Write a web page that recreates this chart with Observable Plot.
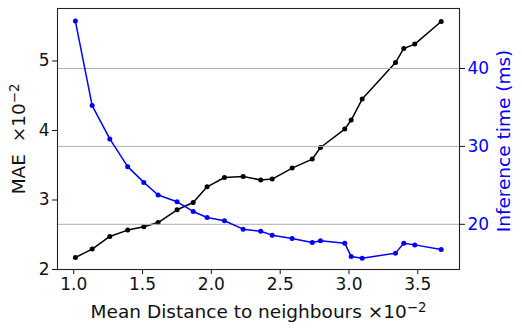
<!DOCTYPE html>
<html><head><meta charset="utf-8">
<script src="https://cdn.jsdelivr.net/npm/d3@7"></script>
<script src="https://cdn.jsdelivr.net/npm/@observablehq/plot@0.6"></script>
<style>
html,body{margin:0;padding:0;background:#fff;}
#chart{position:relative;width:522px;height:335px;}
#chart svg{position:absolute;left:0;top:0;}
</style></head><body><div id="chart"></div>
<script>
const distance = [1.012,1.134,1.262,1.392,1.509,1.613,1.751,1.868,1.969,2.095,2.231,2.359,2.442,2.587,2.733,2.793,2.969,3.016,3.096,3.338,3.398,3.478,3.670];
const mae = [2.173,2.294,2.475,2.567,2.614,2.676,2.859,2.964,3.190,3.324,3.338,3.288,3.301,3.459,3.588,3.755,4.020,4.150,4.452,4.978,5.180,5.243,5.568];
const inferenceTime = [46.08,35.24,30.96,27.40,25.38,23.76,22.89,21.65,20.87,20.45,19.38,19.10,18.61,18.17,17.66,17.88,17.58,15.86,15.65,16.30,17.58,17.36,16.76];
const xTicks = [1.0,1.5,2.0,2.5,3.0,3.5];
const maeTicks = [2,3,4,5];
const timeTicks = [20,30,40];
const xLabel = "Mean Distance to neighbours ×10⁻²";
const maeLabel = "MAE\u00a0\u00a0×10⁻²";
const timeLabel = "Inference time (ms)";

const rows = distance.map((d,i)=>({d, mae: mae[i], t: inferenceTime[i]}));
const font = "DejaVu Sans, sans-serif";
const tickFs = 17, labelFs = 18.5;
const xDomain = [0.882,3.803];
const common = {
  width:522, height:335, marginLeft:57, marginRight:63, marginTop:8, marginBottom:66,
  style:{fontFamily:font, fontSize:tickFs+"px", background:"transparent", overflow:"visible", color:"#111"}
};

const left = Plot.plot({
  ...common,
  x:{domain:xDomain},
  y:{domain:[2,5.755]},
  marks:[
    Plot.axisX({ticks:xTicks, tickFormat:d3.format(".1f"), tickSize:5, tickPadding:3, label:null, fontSize:tickFs, stroke:"#111", fill:"#111"}),
    Plot.axisY({ticks:maeTicks, tickFormat:d=>String(d), tickSize:5, tickPadding:3, label:null, fontSize:tickFs, stroke:"#111", fill:"#111"}),
    Plot.line(rows, {x:"d", y:"mae", stroke:"black", strokeWidth:1.5}),
    Plot.dot(rows, {x:"d", y:"mae", fill:"black", r:2.5}),
    Plot.text([xLabel], {frameAnchor:"bottom", dy:43, textAnchor:"middle", lineAnchor:"middle", fontSize:labelFs, fill:"#111"}),
    Plot.text([maeLabel], {frameAnchor:"left", dx:-38, dy:0, rotate:-90, textAnchor:"middle", lineAnchor:"middle", fontSize:labelFs, fill:"#111"})
  ]
});

const right = Plot.plot({
  ...common,
  x:{domain:xDomain, axis:null},
  y:{domain:[14.2,47.7]},
  marks:[
    Plot.gridY(timeTicks, {stroke:"#b0b0b0", strokeOpacity:1, strokeWidth:1}),
    Plot.line(rows, {x:"d", y:"t", stroke:"blue", strokeWidth:1.5}),
    Plot.dot(rows, {x:"d", y:"t", fill:"blue", r:2.5}),
    Plot.axisY({anchor:"right", ticks:timeTicks, tickSize:5, tickPadding:3, label:null, fontSize:tickFs, stroke:"#111", fill:"blue"}),
    Plot.text([timeLabel], {frameAnchor:"right", dx:45, dy:2, rotate:-90, textAnchor:"middle", lineAnchor:"middle", fontSize:labelFs, fill:"blue"}),
    Plot.frame({stroke:"#222", strokeWidth:1.1})
  ]
});

const el = document.getElementById("chart");
el.append(left, right);

// render the ×10⁻² exponent as a raised, smaller superscript (like mathtext)
el.querySelectorAll("text").forEach(t => {
  const s = t.textContent;
  const k = s.indexOf("⁻²");
  if (k < 0) return;
  t.textContent = s.slice(0, k);
  const NS = "http://www.w3.org/2000/svg";
  const sup = document.createElementNS(NS, "tspan");
  sup.setAttribute("dy", "-0.5em");
  sup.setAttribute("font-size", "0.72em");
  sup.textContent = "−2";
  t.appendChild(sup);
});
</script></body></html>
